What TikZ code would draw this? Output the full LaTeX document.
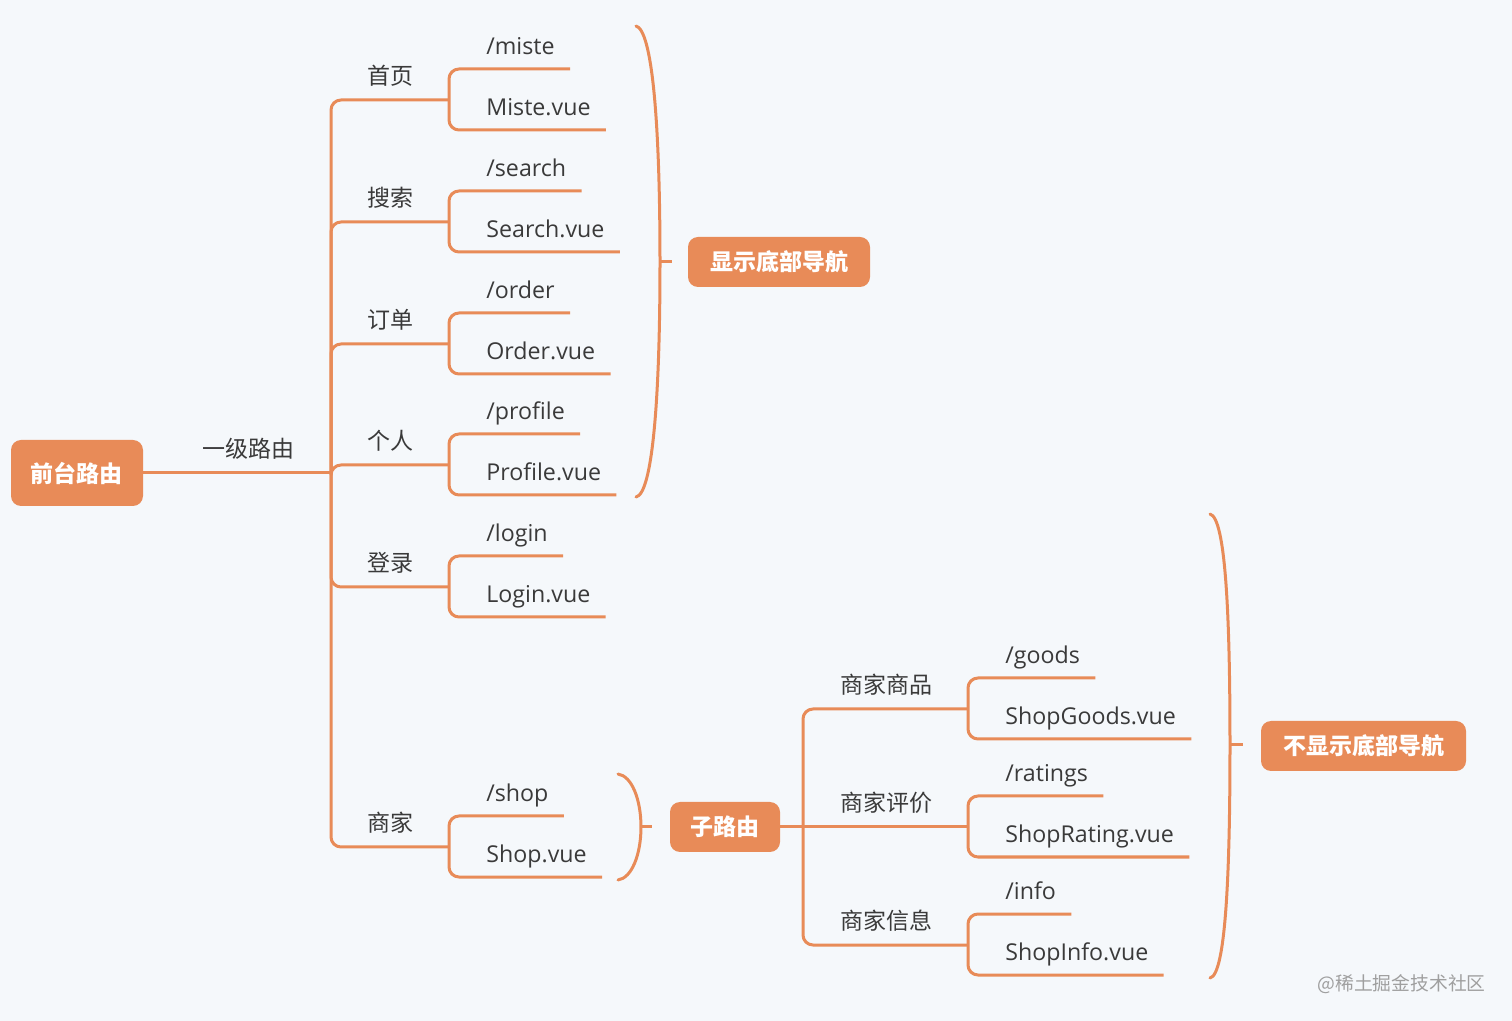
\documentclass[tikz,border=0pt]{standalone}
\usepackage{fontspec}
\usepackage{xcolor}
\usepackage{tikz}
\setmainfont{Open Sans}
\newfontfamily\cjk{Noto Sans CJK SC}
\definecolor{routeorange}{HTML}{E88B58}
\definecolor{routetext}{HTML}{3A3A3A}
\definecolor{routebg}{HTML}{F5F8FB}

\begin{document}
\begin{tikzpicture}[x=0.5pt, y=-0.5pt,
    every node/.style={font=\fontsize{11.6}{14}\selectfont, text=routetext},
    link/.style={draw=routeorange, line width=1.5pt, rounded corners=5pt},
    brace/.style={draw=routeorange, line width=1.5pt, line cap=round},
    tag/.style={fill=routeorange, rounded corners=5pt, text=white, font=\fontsize{11.5}{14}\selectfont\cjk\bfseries, inner xsep=10pt, minimum height=25pt},
    group/.style={anchor=south, inner ysep=7.5pt, text depth=0pt, font=\fontsize{11.5}{14}\selectfont\cjk},
    leaf/.style={anchor=south west, inner xsep=7.5pt, inner ysep=7pt, text depth=0pt}]
    \fill[routebg] (0,0) rectangle (1512,1021);

    % Root
    \node[tag, minimum width=65pt, minimum height=33pt] (root) at (77,473) {前台路由};
    \coordinate (split) at (331,473);
    \draw[link] (root) -- (split);
    \node[group] (level1) at (248,473) {一级路由};

    % Home
    \coordinate (home) at (449,100);
    \draw[link] (split) |- (home);
    \node[group] (home-label) at (390,100) {首页};
    \node[leaf] (home-path) at (471,69) {/miste};
    \node[leaf] (home-vue) at (471,130) {Miste.vue};
    \draw[link] (home-path.south east) -| (home) |- (home-vue.south east);

    % Search
    \coordinate (search) at (449,222);
    \draw[link] (split) |- (search);
    \node[group] (search-label) at (390,222) {搜索};
    \node[leaf] (search-path) at (471,191) {/search};
    \node[leaf] (search-vue) at (471,252) {Search.vue};
    \draw[link] (search-path.south east) -| (search) |- (search-vue.south east);

    % Order
    \coordinate (order) at (449,344);
    \draw[link] (split) |- (order);
    \node[group] (order-label) at (390,344) {订单};
    \node[leaf] (order-path) at (471,313) {/order};
    \node[leaf] (order-vue) at (471,374) {Order.vue};
    \draw[link] (order-path.south east) -| (order) |- (order-vue.south east);

    % Profile
    \coordinate (profile) at (449,465);
    \draw[link] (split) |- (profile);
    \node[group] (profile-label) at (390,465) {个人};
    \node[leaf] (profile-path) at (471,434) {/profile};
    \node[leaf] (profile-vue) at (471,495) {Profile.vue};
    \draw[link] (profile-path.south east) -| (profile) |- (profile-vue.south east);

    % Login
    \coordinate (login) at (449,587);
    \draw[link] (split) |- (login);
    \node[group] (login-label) at (390,587) {登录};
    \node[leaf] (login-path) at (471,556) {/login};
    \node[leaf] (login-vue) at (471,617) {Login.vue};
    \draw[link] (login-path.south east) -| (login) |- (login-vue.south east);

    % Shop
    \coordinate (shop) at (449,847);
    \draw[link] (split) |- (shop);
    \node[group] (shop-label) at (390,847) {商家};
    \node[leaf] (shop-path) at (471,816) {/shop};
    \node[leaf] (shop-vue) at (471,877) {Shop.vue};
    \draw[link] (shop-path.south east) -| (shop) |- (shop-vue.south east);

    % Pages with bottom navigation
    \coordinate (nav-tip) at (660,262);
    \draw[brace] (636,26) .. controls (652,30) and (660,120) .. (nav-tip) .. controls (660,404) and (652,494) .. (636,497);
    \node[tag, minimum width=91pt] (nav) at (779,262) {显示底部导航};
    \draw[link] (nav-tip) -- ++(12,0);

    % Child routes
    \coordinate (child-tip) at (641,827);
    \draw[brace] (618,774) .. controls (632,776) and (641,800) .. (child-tip) .. controls (641,854) and (632,878) .. (618,880);
    \draw[link] (child-tip) -- ++(11,0);
    \node[tag, minimum width=55pt] (child) at (725,827) {子路由};
    \coordinate (subsplit) at (803,827);
    \draw[link] (child) -- (subsplit);

    % Shop goods
    \coordinate (goods) at (968,709);
    \draw[link] (subsplit) |- (goods);
    \node[group] (goods-label) at (886,709) {商家商品};
    \node[leaf] (goods-path) at (990,678) {/goods};
    \node[leaf] (goods-vue) at (990,739) {ShopGoods.vue};
    \draw[link] (goods-path.south east) -| (goods) |- (goods-vue.south east);

    % Shop ratings
    \coordinate (ratings) at (968,827);
    \draw[link] (subsplit) -- (ratings);
    \node[group] (ratings-label) at (886,827) {商家评价};
    \node[leaf] (ratings-path) at (990,796) {/ratings};
    \node[leaf] (ratings-vue) at (990,857) {ShopRating.vue};
    \draw[link] (ratings-path.south east) -| (ratings) |- (ratings-vue.south east);

    % Shop info
    \coordinate (info) at (968,945);
    \draw[link] (subsplit) |- (info);
    \node[group] (info-label) at (886,945) {商家信息};
    \node[leaf] (info-path) at (990,914) {/info};
    \node[leaf] (info-vue) at (990,975) {ShopInfo.vue};
    \draw[link] (info-path.south east) -| (info) |- (info-vue.south east);

    % Pages without bottom navigation
    \coordinate (hide-tip) at (1230,745);
    \draw[brace] (1210,514) .. controls (1226,518) and (1230,620) .. (hide-tip) .. controls (1230,870) and (1226,975) .. (1210,978);
    \draw[link] (hide-tip) -- ++(13,0);
    \node[tag, minimum width=102.5pt] (hide) at (1363.5,746) {不显示底部导航};

    \node[font=\fontsize{9.4}{11}\selectfont\cjk, text=gray!75, anchor=east, inner sep=0pt] (mark) at (1486,984) {@稀土掘金技术社区};
\end{tikzpicture}
\end{document}
